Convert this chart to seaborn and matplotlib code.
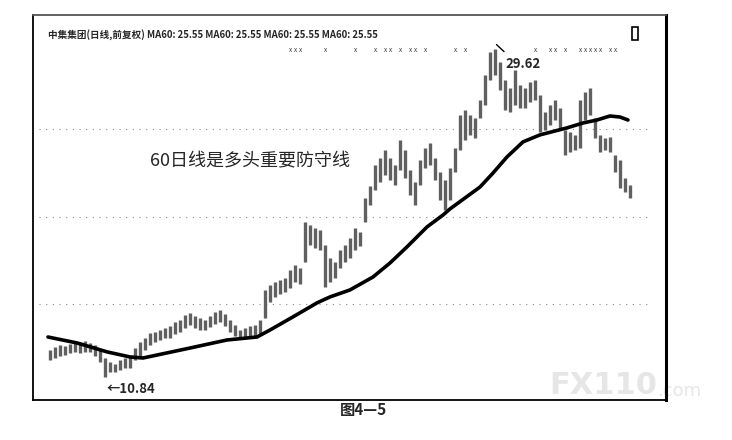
import numpy as np
import pandas as pd
import matplotlib
matplotlib.use('Agg')
import matplotlib.pyplot as plt
import seaborn as sns
from matplotlib.patches import Rectangle

# daily bars (high / low), one per trading day
highs = [12.40, 12.57, 12.69, 12.63, 12.74, 12.80, 12.86, 12.91, 12.80, 12.69,
         12.40, 11.94, 11.71, 11.60, 11.83, 11.94, 12.06, 12.51, 12.86, 13.09,
         13.37, 13.43, 13.54, 13.66, 13.77, 14.00, 14.11, 14.40, 14.51, 14.34,
         14.23, 14.11, 14.34, 14.57, 14.69, 14.46, 14.11, 13.83, 13.54, 13.66,
         13.77, 13.83, 14.11, 15.83, 16.11, 16.29, 16.40, 16.51, 16.97, 17.26,
         17.09, 19.71, 19.54, 19.37, 19.26, 18.40, 17.66, 17.43, 18.11, 18.40,
         18.80, 19.37, 19.14, 21.09, 21.77, 22.97, 23.37, 23.83, 23.37, 22.97,
         24.40, 23.83, 22.69, 22.00, 23.26, 23.94, 24.23, 23.37, 22.57, 22.11,
         22.80, 23.94, 25.83, 26.11, 25.83, 25.66, 26.69, 28.11, 29.43, 29.62,
         28.86, 27.83, 27.37, 28.40, 27.54, 27.37, 27.71, 27.83, 26.97, 26.00,
         26.40, 26.69, 26.23, 24.97, 24.86, 24.69, 26.69, 27.14, 27.37, 25.66,
         24.69, 24.51, 24.57, 23.54, 23.26, 22.23, 21.83]
lows = [11.83, 11.94, 12.06, 12.11, 12.23, 12.29, 12.23, 12.29, 12.29, 12.06,
        11.71, 10.84, 11.14, 11.14, 11.26, 11.37, 11.37, 11.83, 12.06, 12.40,
        12.69, 12.86, 12.97, 13.09, 13.09, 13.31, 13.43, 13.66, 13.83, 13.66,
        13.54, 13.54, 13.71, 13.89, 14.00, 13.77, 13.43, 13.20, 13.09, 13.09,
        13.20, 13.20, 13.31, 14.23, 15.14, 15.43, 15.60, 15.71, 15.94, 16.29,
        16.17, 17.43, 18.40, 18.23, 18.11, 16.00, 16.29, 16.51, 17.09, 17.43,
        17.66, 18.11, 18.34, 19.71, 20.69, 21.54, 22.00, 22.40, 22.11, 21.83,
        22.69, 22.23, 21.26, 20.69, 21.83, 22.80, 22.97, 22.11, 20.97, 20.40,
        20.97, 22.57, 23.83, 24.40, 24.69, 24.51, 25.66, 26.40, 27.83, 28.11,
        27.26, 26.11, 26.00, 26.40, 26.23, 26.23, 26.57, 26.69, 24.86, 24.97,
        25.26, 25.54, 25.09, 23.54, 23.71, 23.83, 23.94, 25.54, 25.83, 24.51,
        23.71, 23.83, 23.71, 22.57, 21.66, 21.43, 21.09]

# 60-day moving average, read at a few days
ma_days = [-0.4, 5.4, 11.4, 16, 18.6, 21.4, 28, 35.4, 41.4, 44, 48.6, 53.4, 56, 60,
           64.6, 68, 71.4, 75.4, 78.6, 80, 86, 88.6, 91.4, 94.6, 98, 103.4, 106.6,
           109.4, 112, 114, 115.6]
ma_values = [13.14, 12.80, 12.29, 12.00, 11.94, 12.11, 12.51, 12.97, 13.14, 13.54,
             14.29, 15.09, 15.43, 15.83, 16.57, 17.37, 18.29, 19.43, 20.11, 20.46,
             21.71, 22.51, 23.43, 24.29, 24.69, 25.09, 25.37, 25.54, 25.77, 25.71,
             25.54]

grid_levels = [15, 20, 25]
marker_days = [48, 49, 50, 55, 61, 65, 67, 68, 70, 72, 73, 75, 81, 83, 97, 100, 101,
               103, 106, 107, 108, 109, 110, 112, 113]

title = '中集集团(日线,前复权) MA60: 25.55 MA60: 25.55 MA60: 25.55 MA60: 25.55'
days = np.arange(len(highs))
bars = pd.DataFrame({'day': days, 'high': highs, 'low': lows})
ma = pd.DataFrame({'day': ma_days, 'ma60': ma_values})

sns.set_theme(style='white')
plt.rcParams['font.family'] = ['Noto Sans CJK SC', 'DejaVu Sans']

fig = plt.figure(figsize=(7.32, 4.40), dpi=100)
ax = fig.add_axes([33 / 732, 40 / 440, 633 / 732, 385 / 440])
ax.set_facecolor('none')

for lvl in grid_levels:
    ax.axhline(lvl, xmin=0.01, xmax=0.97, color='#888888', lw=0.8, ls=(0, (1, 5)), zorder=1)

ax.vlines(bars['day'], bars['low'], bars['high'], color='#606060', lw=2.4, zorder=2)
sns.lineplot(data=ma, x='day', y='ma60', ax=ax, color='black', lw=2.6, zorder=3)

ax.set_xlim(-3.4, 123.2)
ax.set_ylim(9.54, 31.54)
ax.set_xticks([])
ax.set_yticks([])
ax.set_xlabel('')
ax.set_ylabel('')
for side, sp in ax.spines.items():
    sp.set_visible(True)
    sp.set_color('black')
    sp.set_linewidth(1.3)
ax.spines['right'].set_linewidth(2.2)
ax.spines['top'].set_color('#555555')

ax.text(-0.4, 30.45, title, fontsize=6.9, fontweight='bold', va='center', ha='left')
for d in marker_days:
    ax.text(d, 29.55, 'x', fontsize=4.5, ha='center', va='center', color='#333333')
ax.add_patch(Rectangle((0.946, 0.935), 0.009, 0.035, transform=ax.transAxes,
                       fill=False, ec='black', lw=1.2))

ax.text(20, 23.2, '60日线是多头重要防守线', fontsize=13, ha='left', va='center')
ax.text(91, 28.75, '29.62', fontsize=9.5, fontweight='bold', ha='left', va='center')
ax.plot([89.3, 90.8], [29.85, 29.45], color='black', lw=1)
ax.text(11.4, 10.15, '←10.84', fontsize=9.5, fontweight='bold', ha='left', va='center')

fig.text(0.496, 0.068, '图4—5', fontsize=11, fontweight='bold', ha='center', va='center')
fig.text(0.750, 0.123, 'FX110', fontsize=22, fontweight='bold', color='#e6e6e6',
         ha='left', va='center', family='DejaVu Sans', zorder=-1)
fig.text(0.898, 0.112, '.com', fontsize=13, color='#e6e6e6', ha='left', va='center',
         family='DejaVu Sans', zorder=-1)

fig.savefig('out.png', dpi=100, facecolor='white')
